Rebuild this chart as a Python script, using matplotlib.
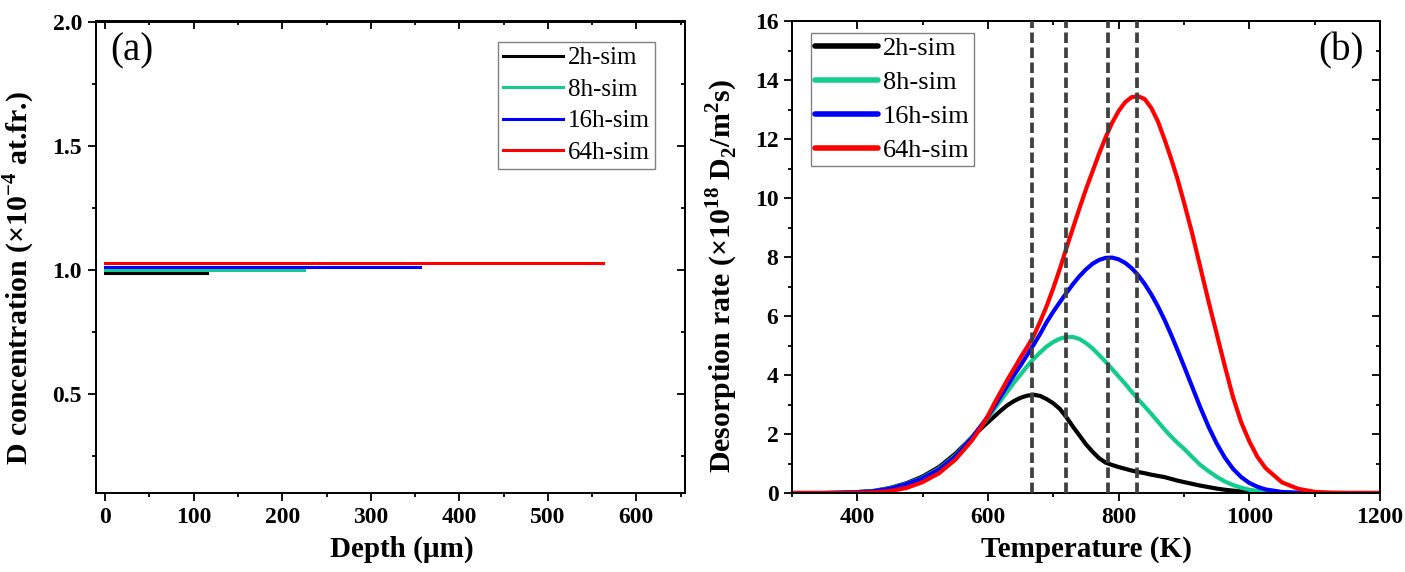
import matplotlib
matplotlib.use("Agg")
import matplotlib.pyplot as plt
from matplotlib.ticker import MultipleLocator, NullFormatter, FormatStrFormatter

# ---------------- data ----------------
series_labels = ["2h-sim", "8h-sim", "16h-sim", "64h-sim"]
series_colors = ["#000000", "#12cc8c", "#0000ff", "#ff0000"]

# panel (a): flat concentration profiles
depth_start = [0, 0, 0, 0]
depth_end = [115, 224, 356, 562]          # um
conc = [0.988, 0.999, 1.012, 1.026]       # x1e-4 at.fr.

# panel (b): TDS spectra
temperature = [300, 350, 375, 400, 425, 450, 475, 500, 525, 550, 575, 590, 600, 610,
               620, 630, 640, 650, 660, 670, 680, 690, 700, 710, 720, 730, 740, 750,
               760, 770, 780, 790, 800, 810, 820, 830, 840, 850, 860, 870, 880, 890,
               900, 912.5, 925, 937.5, 950, 962.5, 975, 987.5, 1000, 1012.5, 1025, 1050,
               1075, 1100, 1125, 1150, 1200]
rate_2h = [0, 0, 0.01, 0.03, 0.07, 0.17, 0.33, 0.56, 0.88, 1.33, 1.88, 2.2, 2.4, 2.6,
           2.8, 2.98, 3.12, 3.23, 3.3, 3.33, 3.29, 3.18, 3.04, 2.85, 2.57, 2.25, 1.95, 1.65,
           1.4, 1.18, 1.03, 0.95, 0.88, 0.82, 0.76, 0.71, 0.67, 0.62, 0.58, 0.54, 0.48, 0.42,
           0.37, 0.31, 0.25, 0.2, 0.15, 0.11, 0.08, 0.055, 0.035, 0.02, 0.012, 0.003,
           0, 0, 0, 0, 0]
rate_8h = [0, 0, 0.01, 0.03, 0.065, 0.155, 0.31, 0.52, 0.83, 1.27, 1.88, 2.28, 2.55, 2.85,
           3.15, 3.45, 3.75, 4.02, 4.3, 4.55, 4.77, 4.97, 5.12, 5.23, 5.29, 5.29, 5.22, 5.08,
           4.9, 4.68, 4.45, 4.2, 3.95, 3.7, 3.43, 3.17, 2.93, 2.68, 2.42, 2.16, 1.92, 1.7,
           1.5, 1.22, 0.95, 0.74, 0.55, 0.39, 0.27, 0.18, 0.11, 0.07, 0.04, 0.01,
           0, 0, 0, 0, 0]
rate_16h = [0, 0, 0.01, 0.028, 0.06, 0.145, 0.3, 0.5, 0.8, 1.24, 1.86, 2.3, 2.6, 2.95,
            3.3, 3.65, 4.0, 4.33, 4.68, 5.03, 5.4, 5.8, 6.15, 6.47, 6.78, 7.08, 7.35, 7.58,
            7.77, 7.9, 7.97, 7.98, 7.92, 7.8, 7.62, 7.38, 7.08, 6.73, 6.33, 5.88, 5.38, 4.85,
            4.3, 3.6, 2.9, 2.25, 1.68, 1.2, 0.82, 0.54, 0.34, 0.21, 0.12, 0.035,
            0.01, 0, 0, 0, 0]
rate_64h = [0, 0, 0.003, 0.01, 0.02, 0.065, 0.17, 0.37, 0.67, 1.13, 1.77, 2.25, 2.62, 3.05,
            3.45, 3.85, 4.22, 4.6, 4.95, 5.33, 5.82, 6.35, 6.95, 7.6, 8.3, 8.98, 9.65, 10.3,
            10.9, 11.5, 12.05, 12.55, 12.95, 13.25, 13.42, 13.45, 13.35, 13.05, 12.6, 12.0, 11.35, 10.65,
            9.85, 8.8, 7.65, 6.5, 5.4, 4.3, 3.25, 2.4, 1.75, 1.22, 0.84, 0.36,
            0.14, 0.04, 0.01, 0, 0]
peak_temps = [667, 720, 784, 828]

# ---------------- style ----------------
plt.rcParams['font.family'] = ['Liberation Serif', 'DejaVu Serif']
plt.rcParams['font.weight'] = 'bold'
plt.rcParams['axes.labelweight'] = 'bold'
plt.rcParams['axes.linewidth'] = 1.4

fig = plt.figure(figsize=(14.05, 5.72), dpi=100)
axA = fig.add_axes([95.5 / 1405, 1 - 493 / 572, 589.5 / 1405, 471.5 / 572])
axB = fig.add_axes([792 / 1405, 1 - 493 / 572, 588 / 1405, 472 / 572])

TICK_FS = 17
LABEL_FS = 21


def style_axes(ax, xmaj, xmin, ymaj, ymin):
    ax.xaxis.set_major_locator(MultipleLocator(xmaj))
    ax.xaxis.set_minor_locator(MultipleLocator(xmin))
    ax.yaxis.set_major_locator(MultipleLocator(ymaj))
    ax.yaxis.set_minor_locator(MultipleLocator(ymin))
    ax.tick_params(which='major', direction='out', length=5.8, width=1.3, pad=4,
                   labelsize=TICK_FS)
    ax.tick_params(which='minor', direction='out', length=2.9, width=1.3)
    secx = ax.secondary_xaxis('top')
    secx.xaxis.set_major_locator(MultipleLocator(xmaj))
    secx.xaxis.set_minor_locator(MultipleLocator(xmin))
    secx.xaxis.set_major_formatter(NullFormatter())
    secx.tick_params(which='major', direction='in', length=5.8, width=1.3)
    secx.tick_params(which='minor', direction='in', length=2.9, width=1.3)
    secy = ax.secondary_yaxis('right')
    secy.yaxis.set_major_locator(MultipleLocator(ymaj))
    secy.yaxis.set_minor_locator(MultipleLocator(ymin))
    secy.yaxis.set_major_formatter(NullFormatter())
    secy.tick_params(which='major', direction='in', length=5.8, width=1.3)
    secy.tick_params(which='minor', direction='in', length=2.9, width=1.3)
    for s in list(secx.spines.values()) + list(secy.spines.values()):
        s.set_linewidth(1.4)


# ---------------- panel (a) ----------------
for x0, x1, c, lab, col in zip(depth_start, depth_end, conc, series_labels, series_colors):
    axA.plot([x0, x1], [c, c], color=col, lw=2.2, label=lab)
axA.set_xlim(-11, 655)
axA.set_ylim(0.1, 2.0)
style_axes(axA, 100, 50, 0.5, 0.25)
axA.yaxis.set_major_formatter(FormatStrFormatter('%.1f'))
axA.set_xlabel('Depth (µm)', fontsize=LABEL_FS, fontweight='bold')
axA.set_ylabel(r'D concentration (×10$^{\mathregular{-4}}$ at.fr.)',
               fontsize=LABEL_FS + 0.5, fontweight='bold')
axA.xaxis.set_label_coords(0.519, -0.091)
axA.yaxis.set_label_coords(-0.099, 0.456)
axA.text(0.025, 0.976, '(a)', transform=axA.transAxes, fontsize=28,
         fontweight='normal', ha='left', va='top')
legA = axA.legend(loc='upper right', bbox_to_anchor=(0.949, 0.957),
                  borderaxespad=0, prop={'size': 18, 'weight': 'normal'},
                  frameon=True, fancybox=False,
                  edgecolor='#808080', framealpha=1, handlelength=2.4,
                  handletextpad=0.2, labelspacing=0.36, borderpad=0.2)
legA.get_frame().set_linewidth(1.0)

# ---------------- panel (b) ----------------
rates = [rate_2h, rate_8h, rate_16h, rate_64h]
for r, lab, col in zip(rates, series_labels, series_colors):
    axB.plot(temperature, r, color=col, lw=3.0, label=lab,
             solid_capstyle='round', solid_joinstyle='round')
for tp in peak_temps:
    ln = axB.axvline(tp, color='#404040', lw=2.7, zorder=5)
    ln.set_dashes((2.8, 1.2))
axB.set_xlim(300, 1200)
axB.set_ylim(0, 16)
style_axes(axB, 200, 100, 2, 1)
axB.set_xlabel('Temperature (K)', fontsize=LABEL_FS, fontweight='bold')
axB.set_ylabel(r'Desorption rate (×10$^{\mathregular{18}}$ D$_{\mathregular{2}}$/m$^{\mathregular{2}}$s)',
               fontsize=LABEL_FS + 0.5, fontweight='bold')
axB.xaxis.set_label_coords(0.5, -0.091)
axB.yaxis.set_label_coords(-0.088, 0.46)
axB.text(0.972, 0.977, '(b)', transform=axB.transAxes, fontsize=28,
         fontweight='normal', ha='right', va='top')
legB = axB.legend(loc='upper left', bbox_to_anchor=(0.032, 0.975),
                  borderaxespad=0, prop={'size': 19, 'weight': 'normal'},
                  frameon=True, fancybox=False,
                  edgecolor='#808080', framealpha=1, handlelength=2.4,
                  handletextpad=0.18, labelspacing=0.4, borderpad=0.15)
legB.get_frame().set_linewidth(1.0)
for h in legB.get_lines():
    h.set_linewidth(4.0)

fig.savefig('out.png', dpi=100)
